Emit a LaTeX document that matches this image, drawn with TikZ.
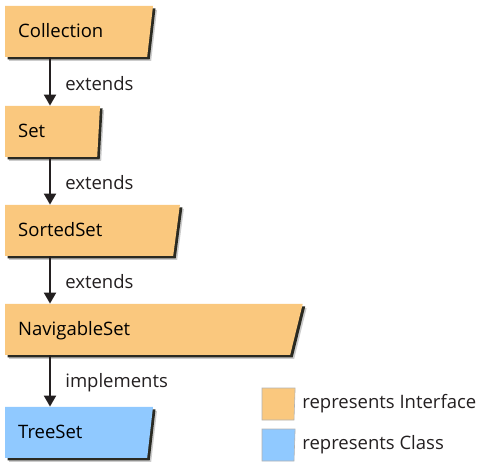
\documentclass[tikz,border=0pt]{standalone}
\usepackage{fontspec}
\setmainfont{Open Sans}
\usetikzlibrary{shapes.geometric,shadows,arrows.meta,positioning}

\definecolor{ifaceorange}{RGB}{250,200,126}
\definecolor{classblue}{RGB}{144,201,255}
\definecolor{shadowdark}{RGB}{42,42,34}
\definecolor{arrowdark}{RGB}{35,31,32}

\tikzset{
  umlbox/.style={trapezium, trapezium left angle=90, anchor=bottom left corner,
    inner xsep=13pt, inner ysep=19pt, text height=13pt, text depth=0pt, align=left,
    font=\fontsize{18.5}{22}\selectfont,
    general shadow={fill=gray!40, shadow xshift=4pt, shadow yshift=-4pt},
    general shadow={fill=shadowdark, shadow xshift=2.5pt, shadow yshift=-2.5pt}},
  iface/.style={umlbox, fill=ifaceorange},
  cls/.style={umlbox, fill=classblue},
  arrowline/.style={draw=arrowdark, line width=2pt, -{Triangle[width=12pt,length=11pt]}},
  lbl/.style={right=11pt, yshift=-2pt, font=\fontsize{18.5}{22}\selectfont, text=arrowdark},
  legsq/.style={trapezium, trapezium left angle=90, trapezium right angle=92,
    inner xsep=16pt, inner ysep=16pt, draw=gray!60, line width=0.6pt},
  legtxt/.style={anchor=west, font=\fontsize{18.5}{22}\selectfont, text=arrowdark}
}

\begin{document}
\begin{tikzpicture}[x=1pt,y=-1pt]
  \useasboundingbox (0,0) rectangle (481,466);

  % interfaces and class
  \node[iface, text width=116pt, trapezium right angle=96.5] (coll) at (5,57) {Collection};
  \node[iface, text width=66pt, trapezium right angle=93.2] (set) at (5,157) {Set};
  \node[iface, text width=142pt, trapezium right angle=97.5] (sorted) at (5,256) {SortedSet};
  \node[iface, text width=259pt, trapezium right angle=103.8] (navig) at (5,355) {NavigableSet};
  \node[cls, text width=116pt, trapezium right angle=96.5] (tree) at (5,458) {TreeSet};

  \draw[arrowline] ([xshift=45pt]coll.bottom left corner) -- node[lbl] {extends} ([xshift=45pt]set.top left corner);
  \draw[arrowline] ([xshift=45pt]set.bottom left corner) -- node[lbl] {extends} ([xshift=45pt]sorted.top left corner);
  \draw[arrowline] ([xshift=45pt]sorted.bottom left corner) -- node[lbl] {extends} ([xshift=45pt]navig.top left corner);
  \draw[arrowline] ([xshift=45pt]navig.bottom left corner) -- node[lbl] {implements} ([xshift=45pt]tree.top left corner);

  % legend
  \node[legsq, fill=ifaceorange] (legi) at (278,404) {};
  \node[legsq, fill=classblue] (legc) at (278,445) {};
  \node[legtxt, right=4pt of legi] (legitxt) {represents Interface};
  \node[legtxt, right=4pt of legc] (legctxt) {represents Class};
\end{tikzpicture}
\end{document}
